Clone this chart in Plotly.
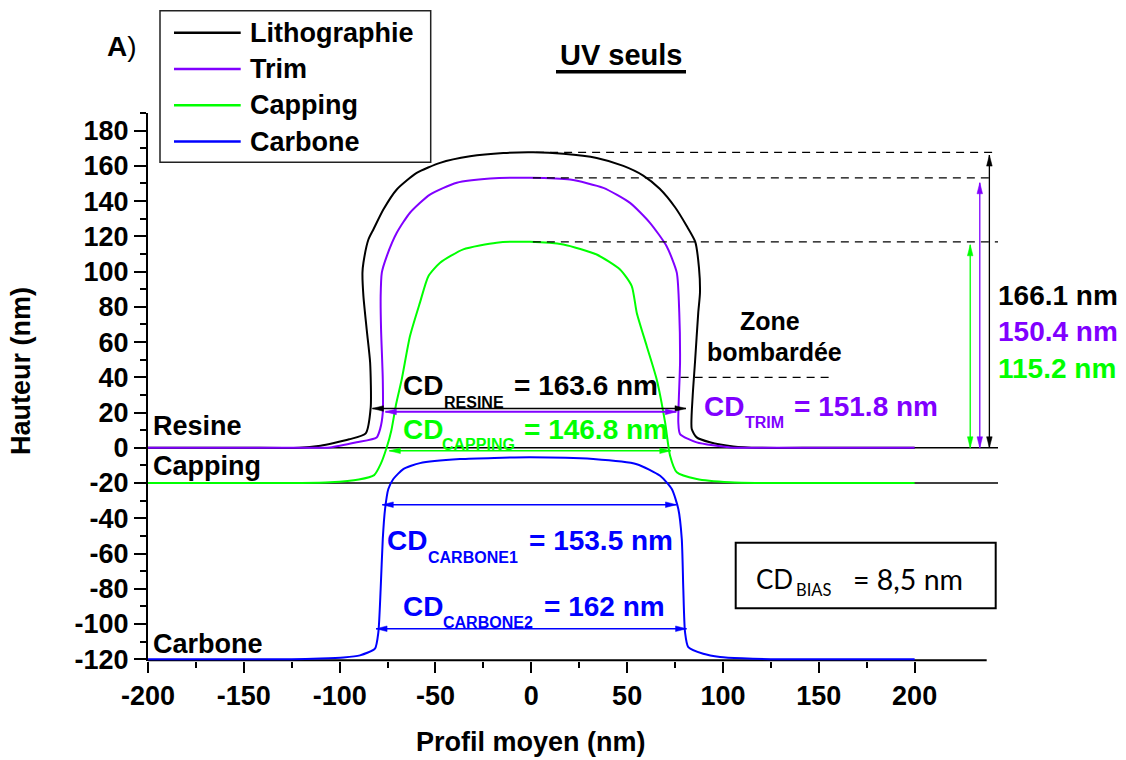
import math
import plotly.graph_objects as go

# ---------------------------------------------------------------------------
# Mean profiles (x in nm, height in nm)
# ---------------------------------------------------------------------------
litho_x = [-200, -150, -121, -110, -103, -95, -86.4, -83.8, -84.1, -85.9, -87.6, -88.1,
           -87.6, -85.0, -82.4, -77.2, -70.2, -59.8, -47.6, -32.0, -14.6, 1.0, 16.7,
           34.1, 48.0, 58.4, 67.0, 75.0, 81.0, 85.5, 87.5, 88.0, 87.1, 85.4, 84.2, 83.7,
           86.3, 93.2, 105.4, 119.3, 150, 200]
litho_y = [0, 0, 0, 1.2, 2.7, 4.8, 8.2, 22.9, 48.4, 67.2, 86.1, 99.4,
           105.0, 118.2, 123.9, 135.2, 146.6, 156.0, 161.7, 165.4, 167.3, 167.7, 166.9,
           164.5, 160.0, 154.5, 147.0, 136.5, 126.0, 117.0, 102.0, 88.0, 76.7, 48.4, 29.5, 10.6,
           5.9, 3.1, 0.8, 0, 0, 0]

trim_x = [-200, -150, -120, -105, -91.1, -80.7, -78.9, -77.5, -77.5, -78.4, -78.6, -78.0,
          -75.4, -70.2, -63.3, -52.9, -38.9, -21.5, -0.7, 20.2, 37.6, 51.5, 61.9, 70.6,
          75.9, 77.2, 77.6, 76.7, 77.6, 86.3, 103.7, 120, 150, 200]
trim_y = [0, 0, 0, 0.2, 3.1, 5.9, 10.6, 20.0, 38.9, 67.2, 86.1, 99.4,
          108.8, 122.0, 133.4, 143.7, 150.4, 152.8, 153.2, 152.2, 147.5, 139.0, 127.7, 114.4,
          99.4, 76.7, 48.4, 14.4, 7.8, 3.1, 0.2, 0, 0, 0]

capping_x = [-200, -150, -120, -105, -90, -82, -78.5, -75.5, -73.0, -70.5, -67.6, -63.3,
             -58.1, -53.7, -47.6, -35.5, -18.1, -0.7, 16.7, 34.1, 46.3, 52.4, 55.0, 60.2,
             65.4, 69.8, 72.4, 75.9, 86.3, 103.7, 120, 150, 200]
capping_y = [-20, -20, -20, -19.6, -18, -15.5, -9, 0, 10, 25, 38.9, 63.4,
             82.4, 97.4, 105, 112.6, 116.4, 116.9, 115.4, 109.7, 101.2, 91.8, 76.7, 57.8,
             38.9, 14.4, -4.5, -13.9, -17.7, -19.6, -20, -20, -20]

carbone_x = [-200, -150, -125, -110, -98, -89.4, -81.6, -79.8, -78.6, -77.5, -76.3, -74.6,
             -72.0, -66.8, -58.1, -37.2, -0.7, 32.3, 55.0, 67.2, 73.3, 76.7, 78.5, 79.3,
             80.2, 81.9, 89.7, 98.5, 110, 125, 150, 200]
carbone_y = [-120, -120, -120, -119.6, -119, -117.8, -114, -104.6, -80, -51.7, -34.7, -23.4,
             -17.7, -12.1, -8.7, -6.4, -5.4, -6.4, -9.3, -15.9, -23.4, -34.7, -51.7, -80,
             -104.6, -113.1, -116.9, -118.7, -119.5, -120, -120, -120]

series_names = ["Lithographie", "Trim", "Capping", "Carbone"]
series_colors = ["#000000", "#8000ff", "#00ff00", "#0000ff"]
series_x = [litho_x, trim_x, capping_x, carbone_x]
series_y = [litho_y, trim_y, capping_y, carbone_y]

# step heights of the first three profiles (nm)
heights = [166.1, 150.4, 115.2]

# critical dimensions (nm)
cd_names = ["RESINE", "TRIM", "CAPPING", "CARBONE1", "CARBONE2"]
cd_values = [163.6, 151.8, 146.8, 153.5, 162]
cd_colors = ["#000000", "#8000ff", "#00ff00", "#0000ff", "#0000ff"]
cd_bias = 8.5

# stack layers and their base level (nm)
layer_names = ["Resine", "Capping", "Carbone"]
layer_levels = [0, -20, -120]

x_ticks = [-200, -150, -100, -50, 0, 50, 100, 150, 200]
x_minor = [-175, -125, -75, -25, 25, 75, 125, 175]
y_ticks = [-120, -100, -80, -60, -40, -20, 0, 20, 40, 60, 80, 100, 120, 140, 160, 180]

# ---------------------------------------------------------------------------
# Geometry helpers
# ---------------------------------------------------------------------------
FIG_W, FIG_H = 1126, 760
M_L, M_R, M_T, M_B = 148, 128, 113, 99
PLOT_W = FIG_W - M_L - M_R
PLOT_H = FIG_H - M_T - M_B
X_RANGE = [-200, 243.5]
Y_RANGE = [-121, 190]      # a little room below the carbon base line
SX = PLOT_W / (X_RANGE[1] - X_RANGE[0])   # px per nm, horizontal
SY = PLOT_H / (Y_RANGE[1] - Y_RANGE[0])   # px per nm, vertical

ARIAL = "Liberation Sans, Arial, sans-serif"
CALIBRI = "Lato, Carlito, Calibri, sans-serif"


def px(x):
    """page x (px) -> paper fraction"""
    return (x - M_L) / PLOT_W


def py(y):
    """page y (px, from top) -> paper fraction"""
    return (FIG_H - M_B - y) / PLOT_H


def xpaper(v):
    return (v - X_RANGE[0]) / (X_RANGE[1] - X_RANGE[0])


def ypaper(v):
    return (v - Y_RANGE[0]) / (Y_RANGE[1] - Y_RANGE[0])


shapes = []
annotations = []


def text(xp, yp, s, size=27, color="#000000", anchor="left", family=ARIAL,
         weight="bold", angle=0):
    annotations.append(dict(
        x=px(xp), y=py(yp), xref="paper", yref="paper", text=s, showarrow=False,
        xanchor=anchor, yanchor="middle", textangle=angle, borderpad=0,
        font=dict(family=family, size=size, color=color, weight=weight)))


def arrow(x0, y0, x1, y1, color, width=1.4, head_len=11, head_w=2.8):
    """double headed arrow between two data points"""
    shapes.append(dict(type="line", xref="x", yref="y", x0=x0, y0=y0, x1=x1, y1=y1,
                       line=dict(color=color, width=width), layer="above"))
    ux, uy = (x1 - x0) * SX, (y1 - y0) * SY
    n = math.hypot(ux, uy)
    ux, uy = ux / n, uy / n
    for tx, ty, sgn in ((x0, y0, 1), (x1, y1, -1)):
        bx = tx + sgn * ux * head_len / SX
        by = ty + sgn * uy * head_len / SY
        p1 = (bx - uy * head_w / SX, by + ux * head_w / SY)
        p2 = (bx + uy * head_w / SX, by - ux * head_w / SY)
        shapes.append(dict(type="path", xref="x", yref="y",
                           path=f"M {tx},{ty} L {p1[0]},{p1[1]} L {p2[0]},{p2[1]} Z",
                           fillcolor=color, line=dict(color=color, width=0.5),
                           layer="above"))


# ---------------------------------------------------------------------------
# Figure
# ---------------------------------------------------------------------------
fig = go.Figure()
for name, color, xs, ys in zip(series_names, series_colors, series_x, series_y):
    fig.add_trace(go.Scatter(x=xs, y=ys, name=name, mode="lines",
                             line=dict(color=color, width=2, shape="spline",
                                       smoothing=0.6),
                             showlegend=False))

# interface levels of the stack
for level in layer_levels[:2]:
    shapes.append(dict(type="line", xref="x", yref="y", x0=X_RANGE[0], x1=X_RANGE[1],
                       y0=level, y1=level, line=dict(color="#000000", width=1.4),
                       layer="below"))

# bottom axis line at the carbon base, stopping short of the right edge
shapes.append(dict(type="line", xref="paper", yref="paper",
                   x0=0, x1=xpaper(237.6),
                   y0=ypaper(layer_levels[2]) - 0.002, y1=ypaper(layer_levels[2]) - 0.002,
                   line=dict(color="#000000", width=2), layer="below"))

# dashed guides from each profile top to the height arrows
dash_ends = [242, 239, 243.5]
for xs, ys, end in zip(series_x[:3], series_y[:3], dash_ends):
    top = max(ys)
    x_top = xs[ys.index(top)] + 1.5
    shapes.append(dict(type="line", xref="x", yref="y", x0=x_top, x1=end, y0=top, y1=top,
                       line=dict(color="#000000", width=1.3, dash="8px,6px")))
# limit of the bombarded zone
shapes.append(dict(type="line", xref="x", yref="y", x0=70.6, x1=157.6, y0=40, y1=40,
                   line=dict(color="#000000", width=1.3, dash="8px,6px")))

# height arrows
height_x = [239, 234, 229]
for h, hx, color in zip(heights, height_x, series_colors[:3]):
    arrow(hx, 0, hx, h, color, width=1.3)

# CD arrows
cd_levels = [22.3, 20.4, -1.7, -32.3, -102.7]
cd_centers = [-1.1, -0.25, -0.65, -1.0, 0.0]
cd_widths = [1.5, 2.0, 1.4, 1.6, 1.6]
for v, lv, c, color, w in zip(cd_values, cd_levels, cd_centers, cd_colors, cd_widths):
    arrow(c - v / 2, lv, c + v / 2, lv, color, width=w)

# CD labels: "CD" + subscript + value
cd_label_pos = [  # (CD left, CD mid, sub left, sub mid, value left)
    (401.7, 385.5, 442.7, 402.2, 512.7),
    (702.7, 406.7, 744.0, 422.5, 792.7),
    (401.7, 429.2, 441.0, 444.2, 523.3),
    (386.0, 540.3, 426.7, 557.2, 528.3),
    (401.7, 606.3, 441.7, 622.8, 542.7),
]
for name, v, color, (cx, cy, sx, sy, vx) in zip(cd_names, cd_values, cd_colors, cd_label_pos):
    text(cx, cy, "CD", 28, color)
    text(sx, sy, name, 16, color)
    text(vx, cy, f"= {v:g} nm", 28, color)

# step height values
for h, color, yy in zip(heights, series_colors[:3], [295, 331.7, 368.3]):
    text(997, yy, f"{h:.1f} nm", 28, color)

# layer names
for name, yy in zip(layer_names, [425.8, 465.8, 644]):
    text(152, yy, name, 27)

text(770, 320.5, "Zone", 25, anchor="center")
text(774, 351.7, "bombardée", 25, anchor="center")

# CD bias box
shapes.append(dict(type="rect", xref="paper", yref="paper", x0=px(735.7), x1=px(995.7),
                   y0=py(608.3), y1=py(542.7), line=dict(color="#000000", width=2),
                   fillcolor="rgba(0,0,0,0)"))
text(755, 579, "CD", 26, family=CALIBRI, weight="normal")
text(795, 589.5, "BIAS", 16.5, family=CALIBRI, weight="normal")
text(851.7, 579, f"= {cd_bias:.1f} nm".replace(".", ","), 28.5, family=CALIBRI,
     weight="normal")

# panel tag and title
text(106, 46.5, "<b>A</b>)", 28, weight="normal")
text(621, 55, "UV seuls", 29, anchor="center")
shapes.append(dict(type="line", xref="paper", yref="paper", x0=px(556), x1=px(686),
                   y0=py(71.7), y1=py(71.7), line=dict(color="#000000", width=3.5)))

# axis titles
text(531, 742, "Profil moyen (nm)", 27, anchor="center")
text(21, 371, "Hauteur (nm)", 27, anchor="center", angle=-90)

# legend box
shapes.append(dict(type="rect", xref="paper", yref="paper", x0=px(160), x1=px(430.7),
                   y0=py(162.3), y1=py(10.7), line=dict(color="#222222", width=1.5),
                   fillcolor="#ffffff", layer="above"))
for i, (name, color) in enumerate(zip(series_names, series_colors)):
    yy = 32.7 + i * 36.3
    shapes.append(dict(type="line", xref="paper", yref="paper", x0=px(174), x1=px(240.7),
                       y0=py(yy), y1=py(yy), line=dict(color=color, width=2.5),
                       layer="above"))
    text(249, yy, name, 27)

tick_font = dict(family=ARIAL, size=27, color="#000000", weight="bold")
fig.update_layout(
    width=FIG_W, height=FIG_H,
    margin=dict(l=M_L, r=M_R, t=M_T, b=M_B, autoexpand=False),
    paper_bgcolor="#ffffff", plot_bgcolor="#ffffff",
    showlegend=False,
    shapes=shapes, annotations=annotations,
    xaxis=dict(range=X_RANGE, tickvals=x_ticks, ticktext=[str(v) for v in x_ticks],
               showgrid=False, zeroline=False, showline=False,
               ticks="outside", ticklen=11, tickwidth=2, tickcolor="#000000",
               tickfont=tick_font, automargin=False,
               minor=dict(tickvals=x_minor, ticks="outside", ticklen=6, tickwidth=2,
                          tickcolor="#000000", showgrid=False)),
    yaxis=dict(range=Y_RANGE, tickvals=y_ticks, ticktext=[str(v) for v in y_ticks],
               showgrid=False, zeroline=False, showline=True, linecolor="#000000",
               linewidth=2, ticks="outside", ticklen=12, tickwidth=2,
               tickcolor="#000000", tickfont=tick_font, automargin=False,
               minor=dict(dtick=10, ticks="outside", ticklen=6, tickwidth=2,
                          tickcolor="#000000", showgrid=False)),
)

fig.write_html("out.html")
